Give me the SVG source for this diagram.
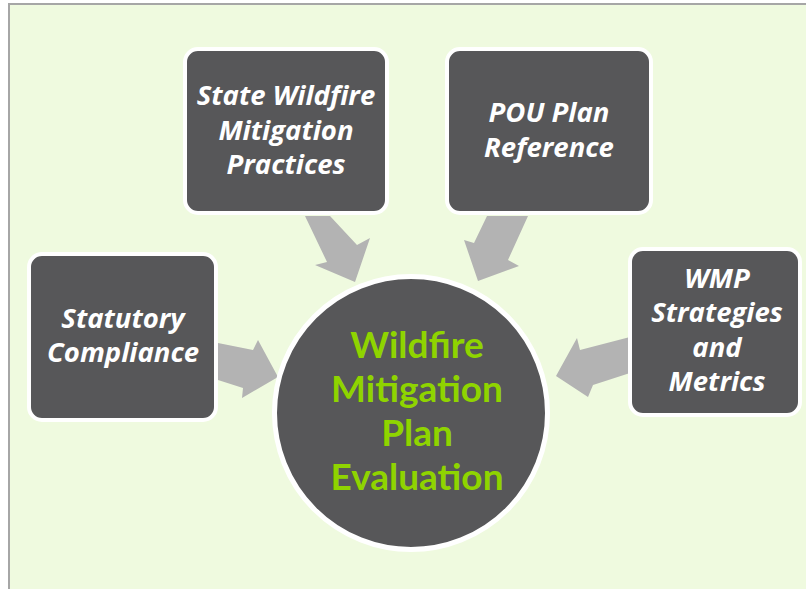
<svg xmlns="http://www.w3.org/2000/svg" width="806" height="589" viewBox="0 0 806 589">
  <defs>
    <style>
      .bg { fill: #effadf; stroke: #a6a6a6; stroke-width: 2; }
      .box { fill: #575759; stroke: #ffffff; stroke-width: 4; }
      .hub { fill: #575759; stroke: #ffffff; stroke-width: 5; }
      .arrow { fill: #b3b3b3; stroke: none; }
      .lbl { font-family: "Open Sans", Lato, "Liberation Sans", sans-serif; font-weight: bold; font-style: italic; font-size: 27.5px; fill: #ffffff; text-anchor: middle; }
      .hubtxt { font-family: Lato, "Open Sans", "Liberation Sans", sans-serif; font-weight: bold; font-size: 37px; fill: #8fd400; text-anchor: middle; }
    </style>
  </defs>

  <!-- panel -->
  <rect class="bg" x="9" y="4" width="820" height="600"/>

  <!-- connectors: block arrows pointing at the hub -->
  <g id="connectors">
    <polygon class="arrow" points="305,216 330,216 357,245 370,238 355,282 315,265 327,262"/>
    <polygon class="arrow" points="487,216 528,216 508,260 519,266 478,281 464,240 474,243"/>
    <polygon class="arrow" points="218,343 253,350 258,340 278,377 242,398 243,388 218,380"/>
    <polygon class="arrow" points="630,337 580,350 577,338 556,376 588,397 593,385 630,373"/>
  </g>

  <g id="hub">
    <circle class="hub" cx="411" cy="413" r="136.5"/>
    <text class="hubtxt" x="417" y="358">Wildfire</text>
    <text class="hubtxt" x="417" y="402">Mitigation</text>
    <text class="hubtxt" x="417" y="446">Plan</text>
    <text class="hubtxt" x="417" y="490">Evaluation</text>
  </g>

  <g id="state-practices">
    <rect class="box" x="185" y="49" width="202" height="164" rx="13"/>
    <text class="lbl" x="286" y="105">State Wildfire</text>
    <text class="lbl" x="286" y="140">Mitigation</text>
    <text class="lbl" x="286" y="174">Practices</text>
  </g>

  <g id="pou-reference">
    <rect class="box" x="447" y="49" width="204" height="164" rx="13"/>
    <text class="lbl" x="549" y="122">POU Plan</text>
    <text class="lbl" x="549" y="157">Reference</text>
  </g>

  <g id="statutory">
    <rect class="box" x="29" y="254" width="187" height="166" rx="13"/>
    <text class="lbl" x="123" y="328">Statutory</text>
    <text class="lbl" x="123" y="362">Compliance</text>
  </g>

  <g id="wmp-strategies">
    <rect class="box" x="630" y="249" width="170" height="166" rx="13"/>
    <text class="lbl" x="717" y="288">WMP</text>
    <text class="lbl" x="717" y="322">Strategies</text>
    <text class="lbl" x="717" y="357">and</text>
    <text class="lbl" x="717" y="391">Metrics</text>
  </g>
</svg>
